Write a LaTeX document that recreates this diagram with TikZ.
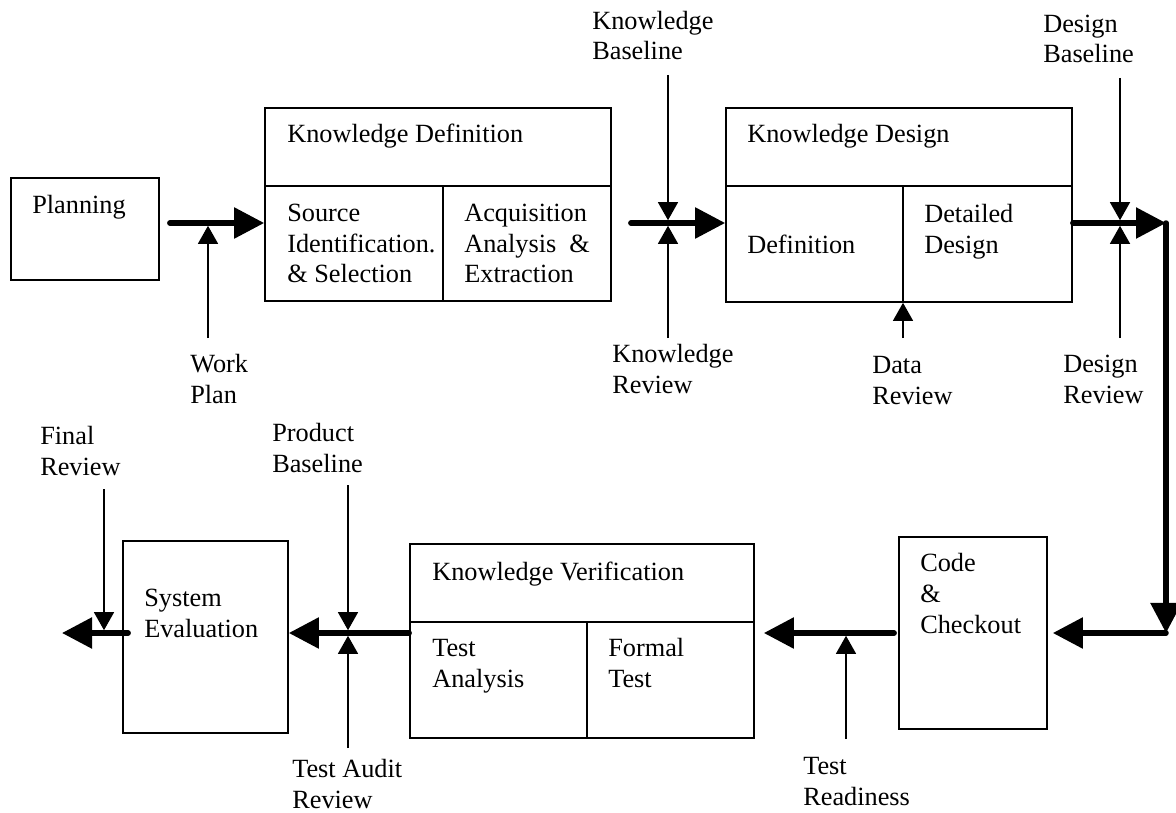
\documentclass[tikz,border=0pt]{standalone}
\usepackage{fontspec}
\setmainfont{Liberation Serif}
\usepackage{tikz}
\usetikzlibrary{arrows.meta,positioning,fit,calc}
\tikzset{
  stage/.style={draw,line width=1.2pt,inner sep=0pt},
  split/.style={line width=1pt},
  txt/.style={anchor=base west,align=left,inner sep=0pt,
              font=\fontsize{18.7}{21.8}\selectfont},
  flow/.style={-{Triangle[length=0.75cm,width=0.75cm]},line width=3.9pt,
               line cap=round},
  gate/.style={-{Triangle[length=0.45cm,width=0.5cm]},line width=0.9pt,
               shorten >=0.07cm},
}

\begin{document}
\begin{tikzpicture}[x=0.025cm,y=-0.025cm]
\useasboundingbox (0,0) rectangle (1176,813);
\coordinate (top) at (0,223);
\coordinate (bot) at (0,633);
\coordinate (ne) at (1166,223);
\coordinate (se) at (1166,633);
\coordinate (exit) at (62,633);
% stages
\node[stage,fit={(11,178) (159,280)}] (plan) {};
\node[stage,fit={(265,108) (611,301)}] (kdef) {};
\node[stage,fit={(726,108) (1072,302)}] (kdes) {};
\node[stage,fit={(899,537) (1047,729)}] (code) {};
\node[stage,fit={(410,544) (754,738)}] (kver) {};
\node[stage,fit={(123,541) (288,733)}] (seval) {};
\draw[split] (kdef.west |- 0,186) -- (kdef.east |- 0,186);
\draw[split] (443,186) -- (kdef.south -| 443,0);
\draw[split] (kdes.west |- 0,186) -- (kdes.east |- 0,186);
\draw[split] (903,186) -- (kdes.south -| 903,0);
\draw[split] (kver.west |- 0,622) -- (kver.east |- 0,622);
\draw[split] (587,622) -- (kver.south -| 587,0);
% stage texts (base = last line)
\node[txt] (plant) at (32,214) {Planning};
\node[txt] (kdeft) at (287,143) {Knowledge Definition};
\node[txt] (srct) at (287,283) {Source\\Identification.\\\& Selection};
\node[txt] (acqt) at (464,283) {Acquisition\\Analysis \ \&\\Extraction};
\node[txt] (kdest) at (747,143) {Knowledge Design};
\node[txt] (dfnt) at (747,253) {Definition};
\node[txt] (ddst) at (924,253) {Detailed\\Design};
\node[txt] (codet) at (920,633) {Code\\\&\\Checkout};
\node[txt] (kvert) at (432,580) {Knowledge Verification};
\node[txt] (tant) at (432,687) {Test\\Analysis};
\node[txt] (fmlt) at (608,687) {Formal\\Test};
\node[txt] (sevt) at (144,637) {System\\Evaluation};
% review labels
\node[txt] (wplan) at (190,403) {Work\\Plan};
\node[txt] (kbase) at (592,60) {Knowledge\\Baseline};
\node[txt] (krev) at (612,393) {Knowledge\\Review};
\node[txt] (drev) at (872,404) {Data\\Review};
\node[txt] (dbase) at (1043,63) {Design\\Baseline};
\node[txt] (dsrev) at (1063,403) {Design\\Review};
\node[txt] (trdy) at (803,805) {Test\\Readiness};
\node[txt] (pbase) at (272,472) {Product\\Baseline};
\node[txt] (tarev) at (292,808) {Test Audit\\Review};
\node[txt] (frev) at (40,475) {Final\\Review};
% main flow
\draw[flow,shorten <=0.25cm] (plan.east |- top) -- (kdef.west |- top);
\draw[flow,shorten <=0.475cm] (kdef.east |- top) -- (kdes.west |- top);
\draw[flow] (kdes.east |- top) -- (ne);
\draw[flow] (ne) -- (se);
\draw[flow,shorten >=0.125cm] (se) -- (code.east |- bot);
\draw[flow,shorten <=0.1cm,shorten >=0.225cm] (code.west |- bot) -- (kver.east |- bot);
\draw[flow] (kver.west |- bot) -- (seval.east |- bot);
\draw[flow,shorten <=-0.15cm] (seval.west |- bot) -- (exit);
% reviews and baselines
\foreach \n/\x/\y in {wp/208/338,kb/668/75,kr/668/338,dr/903/338,db/1120/78,
                      dv/1120/338,tr/846/739,pb/348/485,ta/348/748,fr/104/489}
  \coordinate (\n) at (\x,\y);
\draw[gate] (wp) -- (wp |- top);
\draw[gate] (kb) -- (kb |- top);
\draw[gate] (kr) -- (kr |- top);
\draw[gate,shorten >=0pt] (dr) -- (kdes.south -| dr);
\draw[gate] (db) -- (db |- top);
\draw[gate] (dv) -- (dv |- top);
\draw[gate] (tr) -- (tr |- bot);
\draw[gate] (pb) -- (pb |- bot);
\draw[gate] (ta) -- (ta |- bot);
\draw[gate] (fr) -- (fr |- bot);
\end{tikzpicture}
\end{document}
